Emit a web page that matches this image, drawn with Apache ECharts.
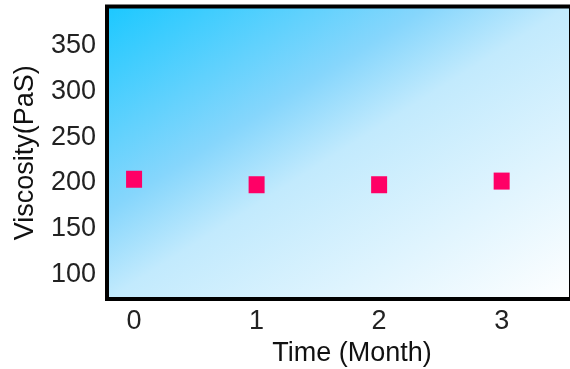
<!DOCTYPE html>
<html>
<head>
<meta charset="utf-8">
<script src="https://cdn.jsdelivr.net/npm/echarts@6/dist/echarts.min.js"></script>
<style>
  html, body { margin: 0; padding: 0; background: #ffffff; }
  #chart { width: 570px; height: 369px; }
</style>
</head>
<body>
<div id="chart"></div>
<script>
// Storage time in months and the measured viscosity at each point
const months = [0, 1, 2, 3];
const viscosity = [204, 198, 198, 202];
const yTicks = [100, 150, 200, 250, 300, 350];

const chart = echarts.init(document.getElementById('chart'), null, { renderer: 'canvas' });

const font = '"Liberation Sans", Arial, sans-serif';

// Plot box size, used to angle the background gradient so that its
// bands run from the lower-left corner to the upper-right corner.
const plotW = 462, plotH = 293;
const k = 2 / (plotW * plotW + plotH * plotH);
const gx2 = k * plotH * plotH;
const gy2 = k * plotW * plotW;

chart.setOption({
  animation: false,
  grid: {
    left: 107,
    top: 6.5,
    right: -1,
    bottom: 70,
    outerBoundsMode: 'none',
    containLabel: false,
    show: true,
    borderColor: '#000000',
    borderWidth: 4,
    backgroundColor: {
      type: 'linear',
      x: 0, y: 0, x2: gx2, y2: gy2,
      colorStops: [
        { offset: 0, color: '#1ac8ff' },
        { offset: 0.35, color: '#86d6fc' },
        { offset: 0.5, color: '#c2eafd' },
        { offset: 1, color: '#ffffff' }
      ]
    }
  },
  xAxis: {
    type: 'value',
    min: -0.221,
    max: 3.566,
    name: 'Time (Month)',
    nameLocation: 'middle',
    nameGap: 36,
    nameTextStyle: { fontFamily: font, fontSize: 27, color: '#111', padding: [0, 0, 0, 26] },
    axisLine: { show: false },
    axisTick: { show: false },
    splitLine: { show: false },
    axisLabel: {
      customValues: months,
      margin: 9,
      fontFamily: font,
      fontSize: 27,
      color: '#222'
    }
  },
  yAxis: {
    type: 'value',
    min: 73,
    max: 393,
    name: 'Viscosity(PaS)',
    nameLocation: 'middle',
    nameGap: 68,
    nameTextStyle: { fontFamily: font, fontSize: 27, color: '#111' },
    axisLine: { show: false },
    axisTick: { show: false },
    splitLine: { show: false },
    axisLabel: {
      customValues: yTicks,
      margin: 11,
      fontFamily: font,
      fontSize: 27,
      color: '#222'
    }
  },
  series: [{
    type: 'scatter',
    data: months.map((m, i) => [m, viscosity[i]]),
    symbol: 'rect',
    symbolSize: [16, 17],
    itemStyle: { color: '#ff0066', opacity: 1 }
  }]
});
</script>
</body>
</html>
